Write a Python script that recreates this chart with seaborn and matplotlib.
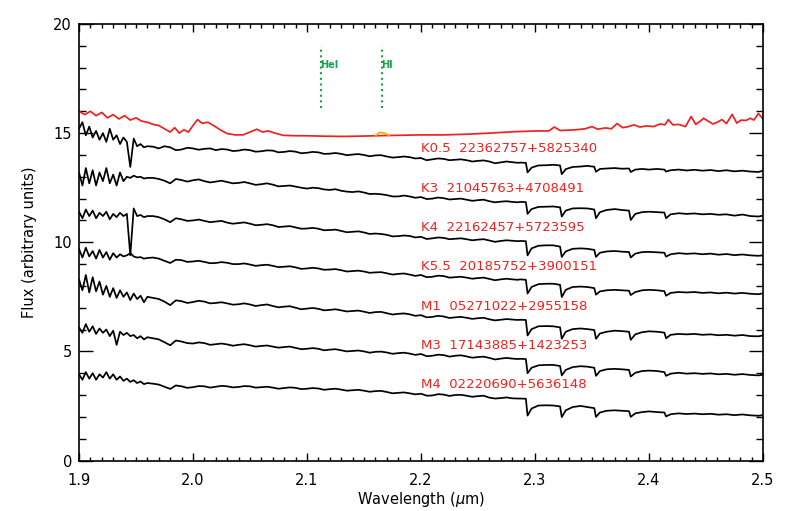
import numpy as np
import pandas as pd
import matplotlib
matplotlib.use("Agg")
import matplotlib.pyplot as plt
from matplotlib.ticker import MultipleLocator, FormatStrFormatter
import seaborn as sns

# --- wavelength sampling (microns) shared by the template spectra ---
wave_blue = [1.900, 1.903, 1.906, 1.909, 1.912, 1.915, 1.918, 1.921, 1.924, 1.927,
             1.930, 1.933, 1.936, 1.939, 1.942, 1.945, 1.948, 1.951, 1.954, 1.957, 1.960]
wave_mid = [1.965, 1.970, 1.975, 1.980, 1.985, 1.990, 1.995, 2.000, 2.005, 2.010,
            2.015, 2.020, 2.025, 2.030, 2.035, 2.040, 2.045, 2.050, 2.055, 2.060,
            2.065, 2.070, 2.075, 2.080, 2.085, 2.090, 2.095, 2.100, 2.105, 2.110,
            2.115, 2.120, 2.125, 2.130, 2.135, 2.140, 2.145, 2.150, 2.155, 2.160,
            2.165, 2.170, 2.175, 2.180, 2.185, 2.190, 2.195, 2.200, 2.205, 2.210,
            2.215, 2.220, 2.225, 2.230, 2.235, 2.240, 2.245, 2.250, 2.255, 2.260,
            2.265, 2.270, 2.275, 2.280, 2.285]
wave_co = [2.287, 2.292, 2.2935, 2.297, 2.303, 2.310, 2.316, 2.322, 2.3235, 2.327,
           2.333, 2.340, 2.346, 2.352, 2.3535, 2.357, 2.363, 2.370, 2.376, 2.3825,
           2.384, 2.388, 2.394, 2.400, 2.407, 2.4135, 2.415, 2.419, 2.426, 2.433,
           2.440, 2.447, 2.454, 2.461, 2.468, 2.475, 2.482, 2.489, 2.496, 2.500]
wave = wave_blue + wave_mid + wave_co

# template fluxes: blue part / middle / CO band region
flux_k05 = [15.2, 15.5, 14.9, 15.3, 14.8, 15.1, 14.7, 15.0, 14.6, 15.2, 14.7, 14.9, 14.5, 14.8, 14.6,
            13.45, 14.75, 14.4, 14.5, 14.35, 14.4,
            14.38, 14.3, 14.4, 14.35, 14.22, 14.25, 14.33, 14.3, 14.24, 14.28,
            14.3, 14.22, 14.27, 14.25, 14.18, 14.2, 14.25, 14.22, 14.15, 14.17,
            14.21, 14.2, 14.12, 14.14, 14.18, 14.15, 14.08, 14.1, 14.14, 14.12,
            14.05, 14.06, 14.09, 14.05, 13.99, 14.02, 14.04, 14.0, 13.94, 13.98,
            13.99, 13.93, 13.88, 13.9, 13.93, 13.9, 13.84, 13.86, 13.76, 13.8,
            13.84, 13.82, 13.76, 13.78, 13.8, 13.76, 13.7, 13.73, 13.75, 13.7,
            13.62, 13.66, 13.7, 13.67, 13.64,
            13.65, 13.64, 13.2, 13.42, 13.52, 13.53, 13.55, 13.52, 13.12, 13.35, 13.45, 13.47, 13.5, 13.46,
            13.23, 13.36, 13.38, 13.4, 13.37, 13.38, 13.22, 13.33, 13.36, 13.33, 13.36, 13.33, 13.24, 13.3,
            13.33, 13.29, 13.32, 13.28, 13.31, 13.26, 13.3, 13.25, 13.28, 13.24, 13.22, 13.28]
flux_k3 = [13.2, 12.6, 13.4, 12.7, 13.3, 12.6, 13.2, 12.8, 13.4, 12.7, 13.1, 12.6, 13.2, 12.8, 13.0,
           12.95, 13.05, 12.98, 13.0, 12.92, 12.95,
           12.95, 12.9, 12.82, 12.7, 12.9, 12.85, 12.78, 12.84, 12.88, 12.8,
           12.74, 12.78, 12.82, 12.76, 12.7, 12.72, 12.76, 12.7, 12.63, 12.66,
           12.7, 12.64, 12.56, 12.58, 12.6, 12.55, 12.5, 12.46, 12.5, 12.48,
           12.42, 12.4, 12.43, 12.36, 12.32, 12.3, 12.33, 12.28, 12.21, 12.22,
           12.2, 12.16, 12.1, 12.1, 12.14, 12.1, 12.04, 12.07, 11.98, 12.0,
           12.05, 12.02, 11.96, 11.98, 12.0, 11.95, 11.9, 11.93, 11.95, 11.88,
           11.83, 11.86, 11.88, 11.85, 11.83,
           11.85, 11.84, 11.3, 11.52, 11.62, 11.63, 11.64, 11.6, 11.18, 11.45, 11.55, 11.56, 11.55, 11.5,
           11.1, 11.38, 11.48, 11.52, 11.48, 11.45, 11.02, 11.3, 11.38, 11.4, 11.38, 11.36, 11.1, 11.28,
           11.33, 11.3, 11.32, 11.28, 11.3, 11.26, 11.28, 11.22, 11.27, 11.2, 11.18, 11.22]
flux_k4 = [11.4, 11.1, 11.5, 11.2, 11.45, 11.1, 11.35, 11.2, 11.4, 11.05, 11.3, 11.15, 11.35, 11.2, 11.3,
           9.4, 11.55, 11.2, 11.25, 11.15, 11.2,
           11.2, 11.15, 11.05, 10.92, 11.1, 11.05, 10.98, 11.0, 11.04, 10.98,
           10.92, 10.95, 10.98, 10.9, 10.85, 10.88, 10.91, 10.85, 10.78, 10.8,
           10.83, 10.78, 10.7, 10.72, 10.74, 10.68, 10.62, 10.63, 10.66, 10.62,
           10.55, 10.56, 10.58, 10.52, 10.46, 10.48, 10.5, 10.45, 10.38, 10.4,
           10.38, 10.34, 10.27, 10.28, 10.31, 10.29, 10.22, 10.25, 10.15, 10.18,
           10.22, 10.2, 10.14, 10.16, 10.18, 10.14, 10.09, 10.12, 10.14, 10.08,
           10.02, 10.06, 10.09, 10.07, 10.05,
           10.06, 10.05, 9.4, 9.72, 9.84, 9.86, 9.86, 9.8, 9.33, 9.58, 9.7, 9.72, 9.7, 9.65,
           9.33, 9.52, 9.58, 9.6, 9.57, 9.55, 9.3, 9.48, 9.55, 9.56, 9.54, 9.52, 9.34, 9.45,
           9.5, 9.47, 9.49, 9.45, 9.48, 9.43, 9.46, 9.41, 9.44, 9.4, 9.38, 9.4]
flux_k55 = [9.7, 9.3, 9.75, 9.35, 9.6, 9.25, 9.65, 9.3, 9.55, 9.2, 9.5, 9.3, 9.45, 9.35, 9.4,
            9.5, 9.35, 9.3, 9.32, 9.25, 9.28,
            9.3, 9.25, 9.15, 9.05, 9.2, 9.18, 9.1, 9.12, 9.15, 9.1,
            9.04, 9.05, 9.09, 9.06, 9.0, 9.0, 9.03, 8.98, 8.92, 8.95,
            8.97, 8.92, 8.86, 8.88, 8.9, 8.85, 8.78, 8.8, 8.83, 8.8,
            8.74, 8.75, 8.77, 8.72, 8.66, 8.68, 8.7, 8.66, 8.6, 8.62,
            8.63, 8.58, 8.52, 8.55, 8.57, 8.52, 8.46, 8.5, 8.4, 8.42,
            8.47, 8.45, 8.38, 8.4, 8.42, 8.38, 8.33, 8.36, 8.38, 8.32,
            8.26, 8.3, 8.33, 8.3, 8.28,
            8.3, 8.28, 7.65, 7.95, 8.08, 8.1, 8.1, 8.05, 7.49, 7.82, 7.95, 7.97, 7.95, 7.9,
            7.6, 7.75, 7.8, 7.82, 7.8, 7.78, 7.58, 7.72, 7.8, 7.82, 7.8, 7.76, 7.55, 7.68,
            7.72, 7.7, 7.72, 7.68, 7.7, 7.66, 7.69, 7.65, 7.68, 7.64, 7.62, 7.66]
flux_m1 = [8.3, 7.8, 8.5, 7.7, 8.4, 7.75, 8.2, 7.6, 8.0, 7.5, 7.9, 7.45, 7.8, 7.5, 7.7,
           7.35, 7.65, 7.4, 7.55, 7.25, 7.5,
           7.45, 7.4, 7.28, 7.12, 7.34, 7.3, 7.22, 7.26, 7.32, 7.28,
           7.2, 7.22, 7.25, 7.2, 7.14, 7.16, 7.2, 7.15, 7.08, 7.12,
           7.15, 7.08, 7.02, 7.05, 7.07, 7.0, 6.93, 6.96, 6.99, 6.95,
           6.88, 6.9, 6.93, 6.88, 6.83, 6.85, 6.87, 6.82, 6.76, 6.8,
           6.81, 6.75, 6.69, 6.72, 6.74, 6.7, 6.63, 6.66, 6.56, 6.58,
           6.63, 6.6, 6.53, 6.56, 6.58, 6.54, 6.49, 6.52, 6.54, 6.47,
           6.42, 6.45, 6.48, 6.46, 6.44,
           6.45, 6.44, 5.73, 6.02, 6.15, 6.16, 6.15, 6.1, 5.58, 5.9, 6.02, 6.05, 6.02, 5.98,
           5.58, 5.82, 5.9, 5.95, 5.93, 5.9, 5.53, 5.78, 5.88, 5.92, 5.9, 5.86, 5.6, 5.76,
           5.8, 5.78, 5.8, 5.76, 5.78, 5.74, 5.76, 5.72, 5.75, 5.7, 5.69, 5.73]
flux_m3 = [6.1, 5.85, 6.25, 5.9, 6.15, 5.8, 6.05, 5.85, 6.0, 5.7, 5.95, 5.3, 5.9, 5.75, 5.85,
           5.7, 5.75, 5.6, 5.7, 5.55, 5.65,
           5.6, 5.55, 5.42, 5.28, 5.5, 5.45, 5.38, 5.36, 5.41, 5.38,
           5.3, 5.33, 5.36, 5.32, 5.26, 5.3, 5.33, 5.28, 5.22, 5.25,
           5.27, 5.22, 5.17, 5.2, 5.22, 5.16, 5.1, 5.12, 5.15, 5.12,
           5.05, 5.08, 5.1, 5.05, 5.0, 5.02, 5.04, 5.0, 4.94, 4.98,
           4.99, 4.95, 4.89, 4.92, 4.94, 4.9, 4.84, 4.88, 4.78, 4.8,
           4.85, 4.83, 4.76, 4.8, 4.82, 4.77, 4.71, 4.74, 4.76, 4.7,
           4.63, 4.67, 4.7, 4.67, 4.65,
           4.66, 4.65, 4.0, 4.25, 4.36, 4.38, 4.38, 4.33, 3.9, 4.15, 4.28, 4.32, 4.3, 4.25,
           3.88, 4.1, 4.18, 4.2, 4.18, 4.15, 3.85, 4.02, 4.1, 4.12, 4.1, 4.05, 3.88, 3.98,
           4.02, 3.98, 4.0, 3.97, 3.99, 3.95, 3.97, 3.93, 3.96, 3.92, 3.9, 3.93]
flux_m4 = [3.95, 3.7, 4.05, 3.75, 4.0, 3.7, 3.95, 3.8, 4.05, 3.75, 3.95, 3.7, 3.85, 3.65, 3.75,
           3.6, 3.68, 3.55, 3.62, 3.5, 3.55,
           3.52, 3.48, 3.38, 3.28, 3.44, 3.4, 3.33, 3.36, 3.41, 3.4,
           3.34, 3.38, 3.42, 3.4, 3.35, 3.37, 3.41, 3.4, 3.34, 3.36,
           3.38, 3.34, 3.29, 3.32, 3.35, 3.33, 3.27, 3.29, 3.32, 3.3,
           3.24, 3.27, 3.29, 3.25, 3.2, 3.22, 3.24, 3.2, 3.15, 3.18,
           3.19, 3.14, 3.08, 3.1, 3.12, 3.08, 3.03, 3.06, 2.97, 2.98,
           3.04, 3.02, 2.96, 3.0, 3.01, 2.97, 2.92, 2.95, 2.97, 2.88,
           2.84, 2.86, 2.89, 2.85, 2.84,
           2.84, 2.83, 2.06, 2.38, 2.52, 2.53, 2.52, 2.48, 1.99, 2.3, 2.45, 2.5, 2.45, 2.4,
           2.0, 2.2, 2.28, 2.3, 2.28, 2.26, 2.0, 2.16, 2.22, 2.25, 2.22, 2.2, 2.02, 2.12,
           2.16, 2.13, 2.15, 2.12, 2.14, 2.1, 2.12, 2.08, 2.11, 2.07, 2.05, 2.08]

# target spectrum (red)
wave_target = [1.900, 1.905, 1.910, 1.915, 1.920, 1.925, 1.930, 1.935, 1.940, 1.945, 1.950, 1.955,
               1.960, 1.965, 1.970, 1.975, 1.980, 1.984, 1.988, 1.992, 1.996, 2.000, 2.004, 2.008,
               2.013, 2.018, 2.024, 2.030, 2.037, 2.044, 2.050, 2.056, 2.061, 2.066, 2.072, 2.079,
               2.090, 2.100, 2.115, 2.130, 2.145, 2.160, 2.180, 2.200, 2.220, 2.240, 2.260, 2.280,
               2.300, 2.312, 2.317, 2.322, 2.330, 2.337, 2.344, 2.350, 2.355, 2.362, 2.367, 2.372,
               2.377, 2.382, 2.387, 2.392, 2.398, 2.404, 2.410, 2.414, 2.417, 2.421, 2.426, 2.432,
               2.437, 2.441, 2.445, 2.448, 2.452, 2.456, 2.460, 2.464, 2.468, 2.473, 2.477, 2.481,
               2.485, 2.489, 2.492, 2.496, 2.500]
flux_target = [16.0, 15.85, 16.0, 15.8, 15.95, 15.7, 15.85, 15.65, 15.8, 15.6, 15.7, 15.55,
               15.5, 15.4, 15.35, 15.2, 15.05, 15.25, 15.0, 15.15, 15.05, 15.35, 15.62, 15.45,
               15.5, 15.35, 15.15, 14.98, 14.92, 14.92, 15.05, 15.18, 15.05, 15.1, 15.0, 14.9,
               14.88, 14.88, 14.86, 14.85, 14.86, 14.88, 14.9, 14.92, 14.92, 14.95, 15.0, 15.06,
               15.1, 15.1, 15.28, 15.12, 15.14, 15.16, 15.2, 15.3, 15.18, 15.24, 15.2, 15.44,
               15.25, 15.3, 15.38, 15.28, 15.33, 15.3, 15.42, 15.38, 15.62, 15.38, 15.4, 15.3,
               15.76, 15.4, 15.55, 15.68, 15.55, 15.42, 15.5, 15.62, 15.44, 15.86, 15.46, 15.6,
               15.58, 15.68, 15.6, 15.9, 15.65]
# small feature near HI drawn in orange
wave_brg = [2.160, 2.164, 2.168, 2.172]
flux_brg = [14.88, 15.04, 15.0, 14.9]

spec_types = ["K0.5", "K3", "K4", "K5.5", "M1", "M3", "M4"]
star_ids = ["22362757+5825340", "21045763+4708491", "22162457+5723595", "20185752+3900151",
            "05271022+2955158", "17143885+1423253", "02220690+5636148"]
label_y = [14.3, 12.48, 10.68, 8.87, 7.06, 5.27, 3.47]
templates = [flux_k05, flux_k3, flux_k4, flux_k55, flux_m1, flux_m3, flux_m4]

line_names = ["HeI", "HI"]
line_waves = [2.1126, 2.1661]

sns.set_style("ticks")
plt.rcParams["font.family"] = ["DejaVu Sans"]
plt.rcParams["text.color"] = "black"
plt.rcParams["axes.labelcolor"] = "black"
plt.rcParams["xtick.color"] = "black"
plt.rcParams["ytick.color"] = "black"
plt.rcParams["axes.edgecolor"] = "black"

fig = plt.figure(figsize=(7.86, 5.11), dpi=100)
ax = fig.add_axes([0.1005, 0.0988, 0.8702, 0.8542])

for flux in templates:
    df = pd.DataFrame({"wave": wave, "flux": flux})
    sns.lineplot(data=df, x="wave", y="flux", color="black", lw=1.25,
                 estimator=None, sort=False, ax=ax)

df_t = pd.DataFrame({"wave": wave_target, "flux": flux_target})
sns.lineplot(data=df_t, x="wave", y="flux", color="#f02020", lw=1.25,
             estimator=None, sort=False, ax=ax)
sns.lineplot(x=wave_brg, y=flux_brg, color="#ffaa00", lw=1.25,
             estimator=None, sort=False, ax=ax)

for name, wl in zip(line_names, line_waves):
    ax.plot([wl, wl], [16.15, 19.0], color="#16a34a", lw=1.5, ls=(0, (1, 1.7)))
    ax.text(wl - 0.0008, 18.12, name, color="#16a34a", fontsize=7, fontweight="bold",
            ha="left", va="center")

for sp, sid, ly in zip(spec_types, star_ids, label_y):
    ax.text(2.2, ly, f"{sp}  {sid}", color="#f02020", fontsize=9.5, ha="left", va="center")

ax.set_xlim(1.9, 2.5)
ax.set_ylim(0, 20)
ax.xaxis.set_major_locator(MultipleLocator(0.1))
ax.xaxis.set_minor_locator(MultipleLocator(0.01))
ax.yaxis.set_major_locator(MultipleLocator(5))
ax.yaxis.set_minor_locator(MultipleLocator(1))
ax.xaxis.set_major_formatter(FormatStrFormatter("%.1f"))
ax.tick_params(axis="x", which="major", direction="in", length=5.8, width=1.0,
               top=True, bottom=True, labelsize=10.5, pad=9)
ax.tick_params(axis="x", which="minor", direction="in", length=2.9, width=1.0,
               top=True, bottom=True)
ax.tick_params(axis="y", which="major", direction="in", length=9.9, width=1.0,
               left=True, right=True, labelsize=10.5, pad=5)
ax.tick_params(axis="y", which="minor", direction="in", length=5.0, width=1.0,
               left=True, right=True)
for sp in ax.spines.values():
    sp.set_linewidth(1.2)
    sp.set_visible(True)
    sp.set_color("black")

ax.set_xlabel(r"Wavelength ($\mu$m)", fontsize=10.5, labelpad=1.5)
ax.set_ylabel("Flux (arbitrary units)", fontsize=10.5, labelpad=12)

fig.savefig("out.png", dpi=100)
